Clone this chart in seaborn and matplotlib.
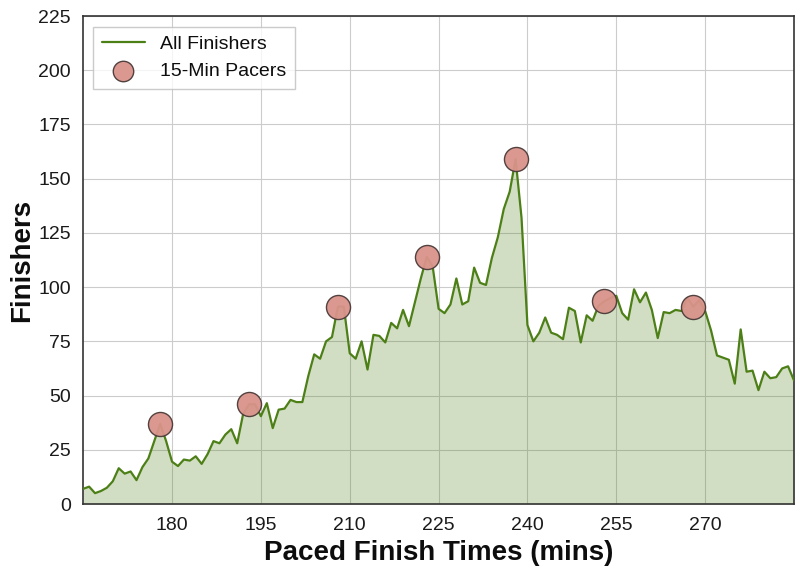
import matplotlib
matplotlib.use("Agg")
import matplotlib.pyplot as plt
import numpy as np
import pandas as pd
import seaborn as sns

# finishers per paced finish minute, 165..285
minutes = list(range(165, 286))
finishers = [
    7, 8, 5, 6, 7.5, 10.5, 16.5, 14, 15, 11,
    17, 21, 29, 37, 29, 19.5, 17.5, 20.5, 20, 22,
    18.5, 23, 29, 28, 32, 34.5, 28, 41.5, 46, 46,
    40.5, 46.5, 35, 43.5, 44, 48, 47, 47, 59, 69,
    67, 75, 77, 91, 91, 69.5, 67, 75, 62, 78,
    77.5, 74.5, 83.5, 81, 89.5, 82, 93, 104, 114, 109.5,
    90, 88, 92, 104, 92, 93.5, 109, 102, 101, 113.5,
    123, 136, 144, 159, 132, 82.5, 75, 79, 86, 79,
    78, 76, 90.5, 89, 74.5, 87, 84.5, 91.5, 93.5, 95,
    96, 88, 85, 99, 93, 97.5, 89.5, 76.5, 88.5, 88,
    89.5, 89, 95, 91, 94, 89, 80, 68.5, 67.5, 66.5,
    55.5, 80.5, 61, 61.5, 52.5, 61, 58, 58.5, 62.5, 63.5,
    57,
]

# 15-minute pacer groups
pacer_minutes = [178, 193, 208, 223, 238, 253, 268]
pacer_finishers = [37, 46, 91, 114, 159, 93.5, 91]

x_ticks = [180, 195, 210, 225, 240, 255, 270]
y_ticks = [0, 25, 50, 75, 100, 125, 150, 175, 200, 225]

line_color = "#4d7f17"
pacer_color = "#d9938a"

all_df = pd.DataFrame({"minute": minutes, "finishers": finishers})
pacer_df = pd.DataFrame({"minute": pacer_minutes, "finishers": pacer_finishers})

sns.set_style("whitegrid", {
    "axes.edgecolor": "0.2",
    "grid.color": "0.8",
    "text.color": "0.05",
    "axes.labelcolor": "0.05",
    "xtick.color": "0.1",
    "ytick.color": "0.1",
})
plt.rcParams["font.family"] = ["Liberation Sans", "DejaVu Sans"]

fig = plt.figure(figsize=(8, 5.73), dpi=100)
ax = fig.add_axes([0.104, 0.1204, 0.8885, 0.8516])

ax.fill_between(all_df["minute"], all_df["finishers"], 0,
                color=line_color, alpha=0.25, linewidth=0, zorder=2)
sns.lineplot(data=all_df, x="minute", y="finishers", color=line_color,
             linewidth=1.6, label="All Finishers", ax=ax, zorder=3)
sns.scatterplot(data=pacer_df, x="minute", y="finishers", color=pacer_color,
                edgecolor="#4a3a38", linewidth=1.0, s=300, alpha=0.95,
                label="15-Min Pacers", ax=ax, zorder=4)

ax.set_xlim(165, 285)
ax.set_ylim(0, 225)
ax.set_xticks(x_ticks)
ax.set_yticks(y_ticks)
ax.tick_params(labelsize=14, length=0, pad=9)
ax.set_xlabel("Paced Finish Times (mins)", fontsize=20, fontweight="bold", labelpad=5)
ax.set_ylabel("Finishers", fontsize=20, fontweight="bold", labelpad=2)
for spine in ax.spines.values():
    spine.set_linewidth(1.2)

leg = ax.legend(loc="upper left", fontsize=14, frameon=True, fancybox=False,
                markerscale=0.85, borderpad=0.45, handlelength=2.2,
                borderaxespad=0.0, bbox_to_anchor=(0.0141, 0.978))
leg.get_frame().set_edgecolor("0.75")

fig.savefig("out.png", dpi=100)
